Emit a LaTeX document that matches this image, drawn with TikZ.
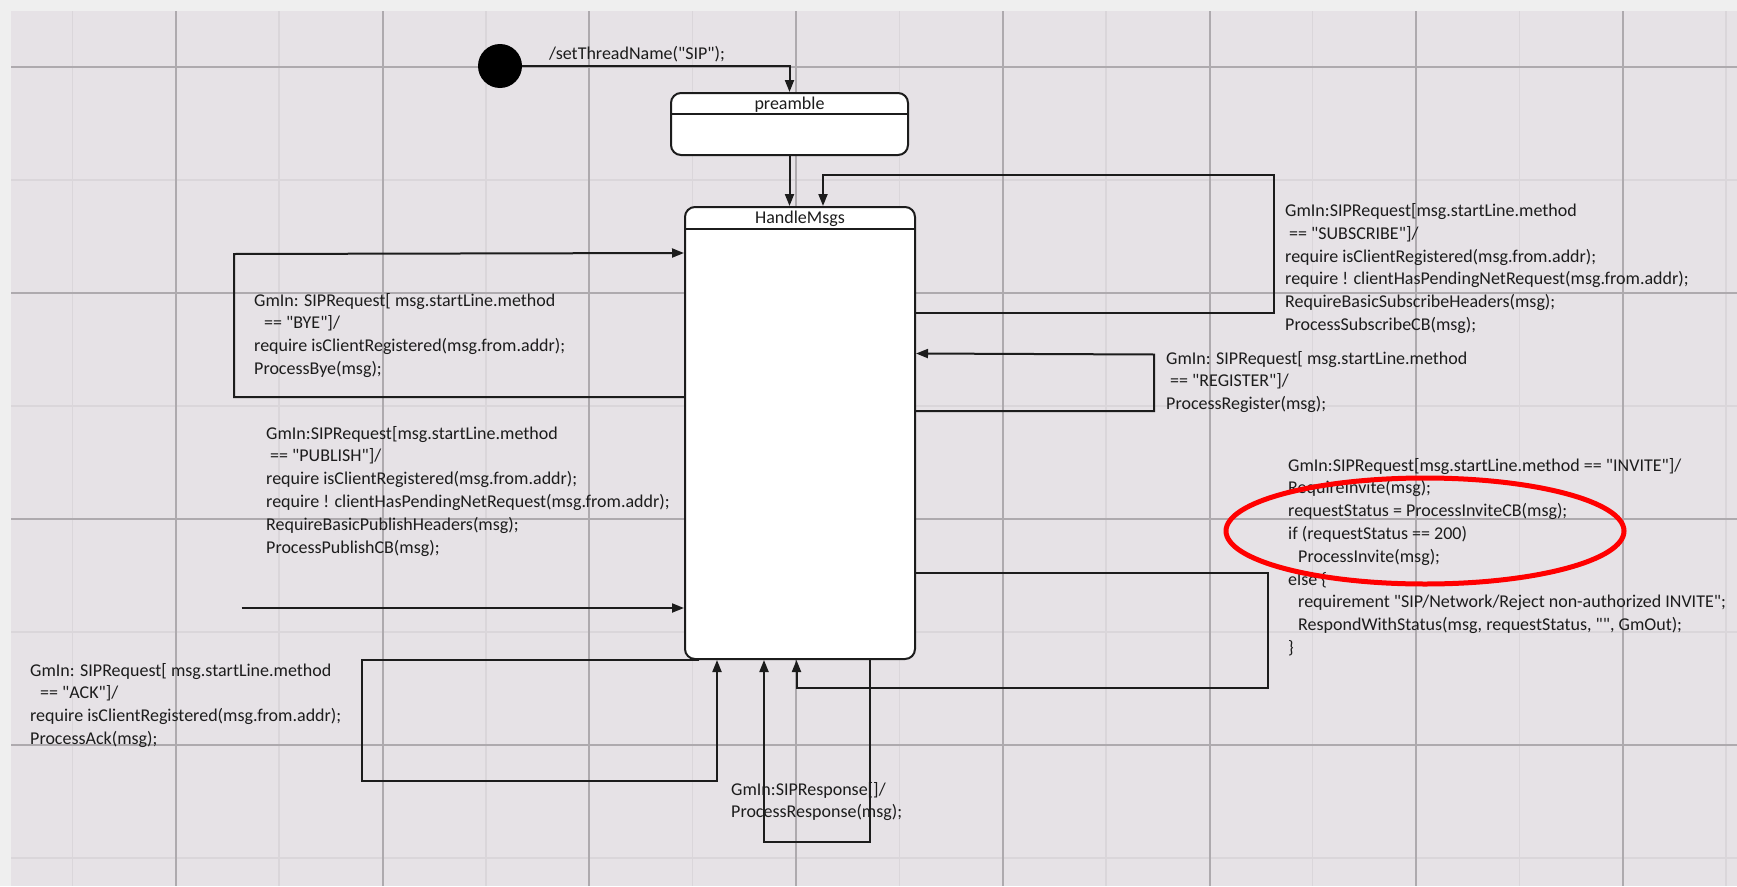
\documentclass[tikz,border=0pt]{standalone}
\usepackage{fontspec}
\setmainfont[Ligatures=TeXOff]{Carlito}
\usetikzlibrary{arrows.meta}
\definecolor{canvas}{HTML}{E6E2E6}
\definecolor{frame}{HTML}{EFEFEF}
\definecolor{gridlo}{HTML}{DAD6DA}
\definecolor{gridhi}{HTML}{AEAAAE}
\definecolor{ink}{HTML}{1C1C1C}

\begin{document}
\begin{tikzpicture}[
  x=1pt, y=-1pt,
  state/.style={draw=ink, fill=white, rounded corners=10pt, line width=2pt},
  title/.style={inner sep=0pt, font=\fontsize{18}{20}\selectfont, text=ink},
  lbl/.style={anchor=base west, inner sep=0pt, align=left, font=\fontsize{18}{22.8}\selectfont, text=ink},
  initial/.style={circle, fill=black, inner sep=0pt, minimum size=44pt},
  trans/.style={-{Triangle[length=12pt,width=9pt]}, line width=2pt, draw=ink}
]
\useasboundingbox (0,0) rectangle (1737,886);
\fill[frame] (0,0) rectangle (1737,886);
\fill[canvas] (11,11) rectangle (1737,886);
\foreach \x in {72.5,279.2,...,1740} \draw[gridlo, line width=1.5pt] (\x,11) -- (\x,886);
\foreach \y in {180,406,632,858} \draw[gridlo, line width=1.5pt] (11,\y) -- (1737,\y);
\foreach \x in {176,382.7,...,1740} \draw[gridhi, line width=2pt] (\x,11) -- (\x,886);
\foreach \y in {67,293,519,745} \draw[gridhi, line width=2pt] (11,\y) -- (1737,\y);

\node[initial] (init) at (500,66) {};
\node[state, minimum width=237pt, minimum height=62pt] (pre) at (789.5,124) {};
\draw[ink, line width=2pt] ([yshift=-22pt]pre.north west) -- ([yshift=-22pt]pre.north east);
\node[title] (preName) at ([yshift=-13pt]pre.north) {preamble};
\node[state, minimum width=230pt, minimum height=452pt] (hm) at (800,433) {};
\draw[ink, line width=2pt] ([yshift=-23pt]hm.north west) -- ([yshift=-23pt]hm.north east);
\node[title] (hmName) at ([yshift=-13pt]hm.north) {HandleMsgs};

\coordinate (subC) at (1274,175);
\coordinate (byeC) at (234,254);
\coordinate (regC) at (1154,354.5);
\coordinate (pubIn) at (241.5,608);
\coordinate (invC) at (1268,688);
\coordinate (ackC) at (362,781);
\coordinate (rspC) at (764,842);

\draw[trans] (init) -| (pre.north);
\draw[trans] (pre) -- (pre |- hm.north);
\draw[trans] ([yshift=-106.5pt]hm.north east) -| (subC) -| ([xshift=23pt]hm.north);
\draw[trans] ([yshift=-191pt]hm.north west) -| (byeC) -- ([yshift=-47pt]hm.north west);
\draw[trans] ([yshift=-205pt]hm.north east) -| (regC) -- ([yshift=-147.5pt]hm.north east);
\draw[trans] (pubIn) -- (pubIn -| hm.west);
\draw[trans] ([yshift=-367pt]hm.north east) -| (invC) -| ([xshift=-3.5pt]hm.south);
\draw[trans] ([xshift=15pt]hm.south west) -| (ackC) -| ([xshift=33pt]hm.south west);
\draw[trans] ([xshift=70pt]hm.south) |- (rspC) -- ([xshift=-36pt]hm.south);

\node[lbl] (initLbl) at (549,59) {/setThreadName("SIP");};
\node[lbl] (subLbl) at (1285,330.5) {GmIn:SIPRequest[msg.startLine.method\\
\hspace{4pt}== "SUBSCRIBE"]/\\
require isClientRegistered(msg.from.addr);\\
require ! clientHasPendingNetRequest(msg.from.addr);\\
RequireBasicSubscribeHeaders(msg);\\
ProcessSubscribeCB(msg);};
\node[lbl] (byeLbl) at (254,374.4) {GmIn: SIPRequest[ msg.startLine.method\\
\hspace{10pt}== "BYE"]/\\
require isClientRegistered(msg.from.addr);\\
ProcessBye(msg);};
\node[lbl] (regLbl) at (1166,409.6) {GmIn: SIPRequest[ msg.startLine.method\\
\hspace{4pt}== "REGISTER"]/\\
ProcessRegister(msg);};
\node[lbl] (pubLbl) at (266,553) {GmIn:SIPRequest[msg.startLine.method\\
\hspace{4pt}== "PUBLISH"]/\\
require isClientRegistered(msg.from.addr);\\
require ! clientHasPendingNetRequest(msg.from.addr);\\
RequireBasicPublishHeaders(msg);\\
ProcessPublishCB(msg);};
\node[lbl] (invLbl) at (1288,653.4) {GmIn:SIPRequest[msg.startLine.method == "INVITE"]/\\
RequireInvite(msg);\\
requestStatus = ProcessInviteCB(msg);\\
if (requestStatus == 200)\\
\hspace{10pt}ProcessInvite(msg);\\
else \{\\
\hspace{10pt}requirement "SIP/Network/Reject non-authorized INVITE";\\
\hspace{10pt}RespondWithStatus(msg, requestStatus, "", GmOut);\\
\}};
\node[lbl] (ackLbl) at (30,744.4) {GmIn: SIPRequest[ msg.startLine.method\\
\hspace{10pt}== "ACK"]/\\
require isClientRegistered(msg.from.addr);\\
ProcessAck(msg);};
\node[lbl] (rspLbl) at (731,817.8) {GmIn:SIPResponse[]/\\
ProcessResponse(msg);};

\draw[red, line width=5pt] (1425,531) ellipse [x radius=199, y radius=53];
\end{tikzpicture}
\end{document}
